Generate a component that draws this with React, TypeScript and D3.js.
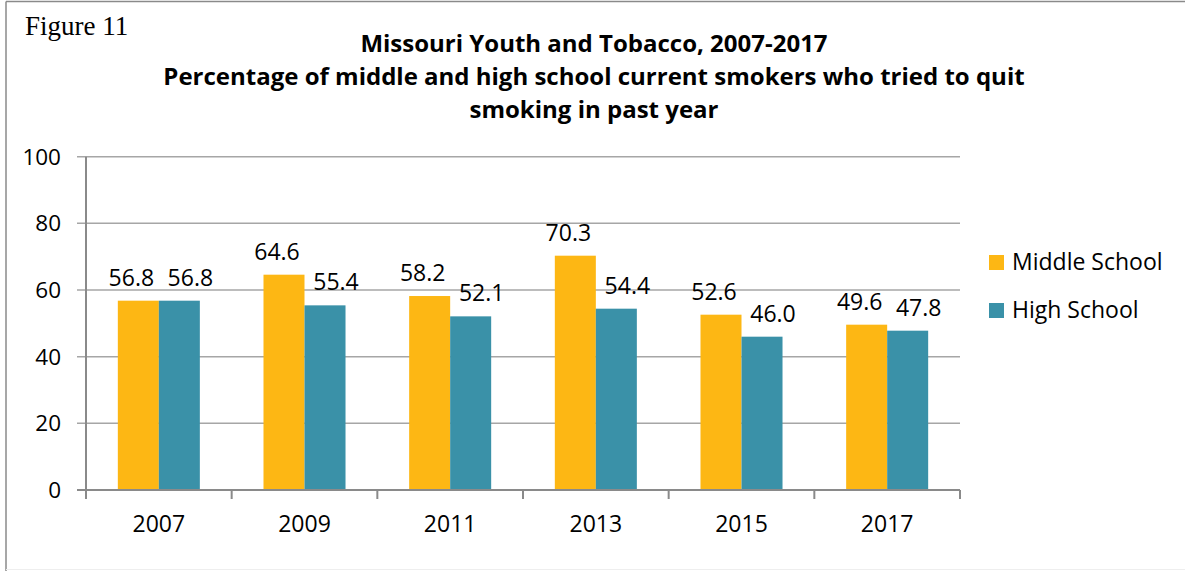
import React from "react";
import * as d3 from "d3";

const years = ["2007", "2009", "2011", "2013", "2015", "2017"];
const seriesNames = ["Middle School", "High School"];
const middleSchool = [56.8, 64.6, 58.2, 70.3, 52.6, 49.6];
const highSchool = [56.8, 55.4, 52.1, 54.4, 46.0, 47.8];
const yTicks = [0, 20, 40, 60, 80, 100];
const titleLines = [
  "Missouri Youth and Tobacco, 2007-2017",
  "Percentage of middle and high school current smokers who tried to quit",
  "smoking in past year",
];
const figureLabel = "Figure 11";

const colors = ["#FDB714", "#3A91A8"];
const W = 1185;
const H = 571;
const FONT = "'Open Sans', 'Noto Sans', sans-serif";

export default function App() {
  const left = 86;
  const right = 960;
  const top = 156.7;
  const bottom = 490;

  const x = d3.scaleBand<string>().domain(years).range([left, right]).paddingInner(0).paddingOuter(0);
  const x1 = d3.scaleBand<string>().domain(seriesNames).range([0, x.bandwidth()]).paddingInner(0).paddingOuter(0.776);
  const y = d3.scaleLinear().domain([0, 100]).range([bottom, top]);
  const values = [middleSchool, highSchool];
  const labelNudge = [-7, 11];

  return (
    <svg width={W} height={H} style={{ position: "absolute", left: 0, top: 0, background: "#fff" }}>
      <rect x={0} y={0} width={W} height={H} fill="#fff" />
      {/* frame */}
      <line x1={6} y1={1.5} x2={W} y2={1.5} stroke="#8a8a8a" strokeWidth={1.5} />
      <line x1={6} y1={1.5} x2={6} y2={H} stroke="#8a8a8a" strokeWidth={1.5} />
      <line x1={6} y1={569.5} x2={W} y2={569.5} stroke="#eeeeee" strokeWidth={1} />

      <text x={25} y={35} fontFamily="'Liberation Serif', 'Times New Roman', serif" fontSize={27} fill="#000">
        {figureLabel}
      </text>

      {titleLines.map((t, i) => (
        <text key={i} x={594} y={52 + i * 33} textAnchor="middle" fontFamily={FONT} fontWeight="bold" fontSize={24} fill="#000">
          {t}
        </text>
      ))}

      {/* gridlines */}
      {yTicks.map((t) => (
        <g key={t}>
          <line x1={77} x2={right} y1={y(t)} y2={y(t)} stroke={t === 0 ? "#8a8a8a" : "#a6a6a6"} strokeWidth={t === 0 ? 2 : 1.5} />
          <text x={61} y={y(t) + 8} textAnchor="end" fontFamily={FONT} fontSize={22.5} fill="#000">
            {t}
          </text>
        </g>
      ))}

      {/* bars */}
      {years.map((yr, i) => (
        <g key={yr} transform={`translate(${x(yr)},0)`}>
          {seriesNames.map((s, j) => (
            <rect key={s} x={x1(s)} y={y(values[j][i])} width={x1.bandwidth()} height={bottom - y(values[j][i])} fill={colors[j]} />
          ))}
        </g>
      ))}

      {/* axes */}
      <line x1={left} x2={left} y1={top} y2={bottom} stroke="#8a8a8a" strokeWidth={2} />
      <line x1={left} x2={right} y1={bottom} y2={bottom} stroke="#8a8a8a" strokeWidth={2} />
      {[...years.map((yr) => x(yr) as number), right].map((bx, i) => (
        <line key={i} x1={bx} x2={bx} y1={bottom} y2={bottom + 9} stroke="#8a8a8a" strokeWidth={2} />
      ))}

      {/* labels */}
      {years.map((yr, i) =>
        seriesNames.map((s, j) => (
          <text
            key={yr + s}
            x={(x(yr) as number) + (x1(s) as number) + x1.bandwidth() / 2 + labelNudge[j]}
            y={y(values[j][i]) - 15}
            textAnchor="middle"
            fontFamily={FONT}
            fontSize={23}
            fill="#000"
          >
            {values[j][i].toFixed(1)}
          </text>
        ))
      )}

      {years.map((yr) => (
        <text key={yr} x={(x(yr) as number) + x.bandwidth() / 2} y={532} textAnchor="middle" fontFamily={FONT} fontSize={23} fill="#000">
          {yr}
        </text>
      ))}

      {/* legend */}
      {seriesNames.map((s, j) => (
        <g key={s} transform={`translate(989,${255 + j * 48})`}>
          <rect x={0} y={0} width={15} height={15} fill={colors[j]} />
          <text x={23} y={15} fontFamily={FONT} fontSize={23} fill="#000">
            {s}
          </text>
        </g>
      ))}
    </svg>
  );
}
